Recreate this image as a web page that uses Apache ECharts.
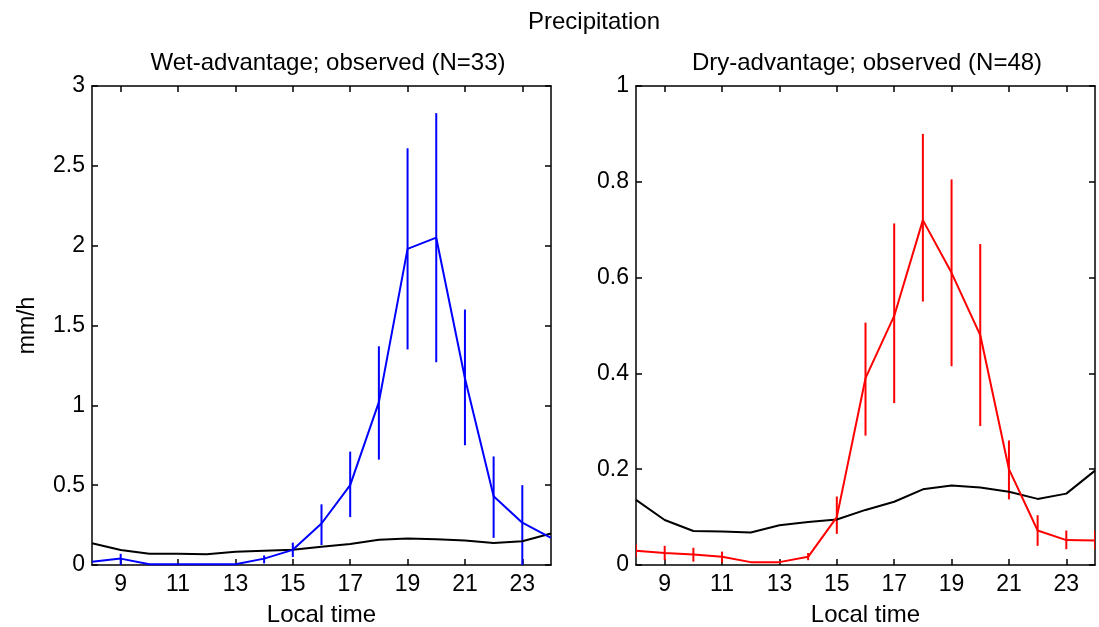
<!DOCTYPE html>
<html>
<head>
<meta charset="utf-8">
<script src="https://cdn.jsdelivr.net/npm/echarts@6/dist/echarts.min.js"></script>
<style>
  html, body { margin: 0; padding: 0; background: #fff; }
  #chart { width: 1099px; height: 627px; }
</style>
</head>
<body>
<div id="chart"></div>
<script>
// local time (hours)
var hours = [8, 9, 10, 11, 12, 13, 14, 15, 16, 17, 18, 19, 20, 21, 22, 23, 24];
var xTicks = [9, 11, 13, 15, 17, 19, 21, 23];

// wet-advantage (left), mm/h
var wetMean = [0.02, 0.04, 0.005, 0.005, 0.005, 0.005, 0.04, 0.095, 0.26, 0.5, 1.02, 1.98, 2.05, 1.17, 0.43, 0.265, 0.17];
var wetLow  = [null, 0.0, null, null, null, null, 0.01, 0.05, 0.125, 0.30, 0.66, 1.35, 1.27, 0.75, 0.17, 0.0, null];
var wetHigh = [null, 0.07, null, null, null, null, 0.06, 0.14, 0.38, 0.71, 1.37, 2.61, 2.83, 1.60, 0.68, 0.50, null];

// dry-advantage (right), mm/h
var dryMean = [0.03, 0.025, 0.022, 0.017, 0.006, 0.006, 0.017, 0.10, 0.39, 0.52, 0.72, 0.61, 0.48, 0.20, 0.072, 0.052, 0.051];
var dryLow  = [0.017, 0.01, 0.007, 0.005, null, null, 0.01, 0.065, 0.27, 0.338, 0.55, 0.415, 0.29, 0.137, 0.04, 0.033, 0.033];
var dryHigh = [0.043, 0.04, 0.036, 0.028, null, null, 0.025, 0.143, 0.506, 0.713, 0.90, 0.805, 0.67, 0.26, 0.104, 0.072, 0.072];

// climatology (black line, both panels)
var climate = [0.136, 0.094, 0.071, 0.07, 0.068, 0.083, 0.09, 0.095, 0.115, 0.132, 0.158, 0.166, 0.162, 0.153, 0.138, 0.149, 0.197];

var wetTicks = [0, 0.5, 1, 1.5, 2, 2.5, 3];
var dryTicks = [0, 0.2, 0.4, 0.6, 0.8, 1];

var font = 'Liberation Sans, Arial, sans-serif';

function pairs(ys) {
  return hours.map(function (h, i) { return [h, ys[i]]; });
}
function bars(lo, hi) {
  var out = [];
  hours.forEach(function (h, i) {
    if (lo[i] != null && hi[i] != null) out.push([h, lo[i], hi[i]]);
  });
  return out;
}
function errorRender(color) {
  return function (params, api) {
    var a = api.coord([api.value(0), api.value(1)]);
    var b = api.coord([api.value(0), api.value(2)]);
    return {
      type: 'line',
      shape: { x1: a[0], y1: a[1], x2: b[0], y2: b[1] },
      style: { stroke: color, lineWidth: 2 }
    };
  };
}

function xAxisFor(gi, top) {
  return {
    type: 'value', gridIndex: gi, min: 8, max: 24,
    position: top ? 'top' : 'bottom',
    axisLine: { show: true, onZero: false, lineStyle: { color: '#000', width: 1.5 } },
    axisTick: { show: true, inside: true, length: 6, customValues: xTicks, lineStyle: { color: '#000', width: 1.5 } },
    axisLabel: { show: !top, customValues: xTicks, color: '#000', fontSize: 23, fontFamily: font, margin: 8 },
    splitLine: { show: false },
    name: top ? '' : 'Local time', nameLocation: 'middle', nameGap: 38,
    nameTextStyle: { color: '#000', fontSize: 24, fontFamily: font }
  };
}
function yAxisFor(gi, right, max, ticks, name) {
  return {
    type: 'value', gridIndex: gi, min: 0, max: max,
    position: right ? 'right' : 'left',
    axisLine: { show: true, lineStyle: { color: '#000', width: 1.5 } },
    axisTick: { show: true, inside: true, length: 6, customValues: ticks, lineStyle: { color: '#000', width: 1.5 } },
    axisLabel: { show: !right, customValues: ticks, color: '#000', fontSize: 23, fontFamily: font, margin: 7 },
    splitLine: { show: false },
    name: right ? '' : name, nameLocation: 'middle', nameGap: 53,
    nameTextStyle: { color: '#000', fontSize: 23, fontFamily: font }
  };
}

var chart = echarts.init(document.getElementById('chart'));
chart.setOption({
  animation: false,
  backgroundColor: '#fff',
  title: [
    { text: 'Precipitation', left: 589, top: 5, textAlign: 'center',
      textStyle: { color: '#000', fontSize: 24, fontWeight: 'normal', fontFamily: font } },
    { text: 'Wet-advantage; observed (N=33)', left: 323, top: 46, textAlign: 'center',
      textStyle: { color: '#000', fontSize: 24, fontWeight: 'normal', fontFamily: font } },
    { text: 'Dry-advantage; observed (N=48)', left: 862, top: 46, textAlign: 'center',
      textStyle: { color: '#000', fontSize: 24, fontWeight: 'normal', fontFamily: font } }
  ],
  grid: [
    { left: 92, top: 86, width: 459, height: 479, outerBoundsMode: 'none', containLabel: false },
    { left: 636, top: 86, width: 459, height: 479, outerBoundsMode: 'none', containLabel: false }
  ],
  xAxis: [xAxisFor(0, false), xAxisFor(0, true), xAxisFor(1, false), xAxisFor(1, true)],
  yAxis: [
    yAxisFor(0, false, 3, wetTicks, 'mm/h'), yAxisFor(0, true, 3, wetTicks),
    yAxisFor(1, false, 1, dryTicks, ''), yAxisFor(1, true, 1, dryTicks)
  ],
  series: [
    { type: 'line', xAxisIndex: 0, yAxisIndex: 0, data: pairs(climate), symbol: 'none',
      lineStyle: { color: '#000', width: 2 } },
    { type: 'line', xAxisIndex: 0, yAxisIndex: 0, data: pairs(wetMean), symbol: 'none',
      lineStyle: { color: '#0000ff', width: 2 } },
    { type: 'custom', xAxisIndex: 0, yAxisIndex: 0, data: bars(wetLow, wetHigh), clip: true,
      renderItem: errorRender('#0000ff') },
    { type: 'line', xAxisIndex: 2, yAxisIndex: 2, data: pairs(climate), symbol: 'none',
      lineStyle: { color: '#000', width: 2 } },
    { type: 'line', xAxisIndex: 2, yAxisIndex: 2, data: pairs(dryMean), symbol: 'none',
      lineStyle: { color: '#ff0000', width: 2 } },
    { type: 'custom', xAxisIndex: 2, yAxisIndex: 2, data: bars(dryLow, dryHigh), clip: true,
      renderItem: errorRender('#ff0000') }
  ]
});
</script>
</body>
</html>
